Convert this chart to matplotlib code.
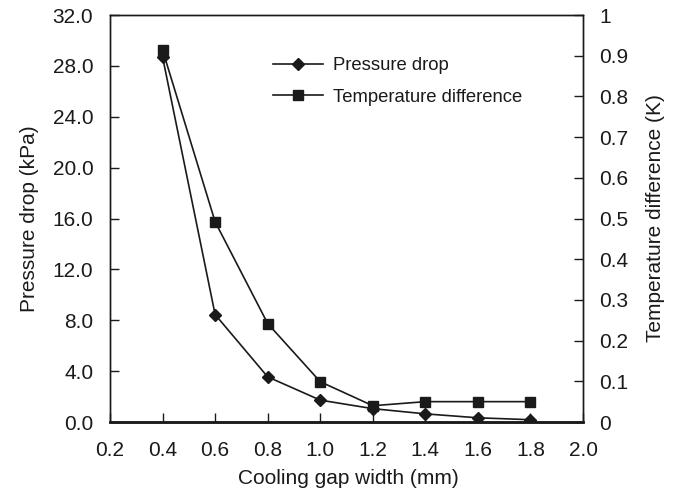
import matplotlib
matplotlib.use("Agg")
import matplotlib.pyplot as plt
from matplotlib.ticker import FuncFormatter

plt.rcParams['font.family'] = ['Liberation Sans', 'DejaVu Sans']

gap = [0.4, 0.6, 0.8, 1.0, 1.2, 1.4, 1.6, 1.8]
pressure = [28.7, 8.45, 3.55, 1.72, 1.05, 0.64, 0.33, 0.18]
temp = [0.914, 0.492, 0.242, 0.099, 0.040, 0.050, 0.050, 0.050]

x_ticks = [0.2, 0.4, 0.6, 0.8, 1.0, 1.2, 1.4, 1.6, 1.8, 2.0]
p_ticks = [0, 4, 8, 12, 16, 20, 24, 28, 32]
t_ticks = [0, 0.1, 0.2, 0.3, 0.4, 0.5, 0.6, 0.7, 0.8, 0.9, 1.0]

INK = '#1a1a1a'
FS = 15

fig = plt.figure(figsize=(6.8, 4.94), dpi=100)
ax = fig.add_axes([110 / 680, 1 - 422 / 494, 473 / 680, 407 / 494])
ax2 = ax.twinx()

l1, = ax.plot(gap, pressure, color=INK, lw=1.2, marker='D', ms=6.3,
              label='Pressure drop')
l2, = ax2.plot(gap, temp, color=INK, lw=1.2, marker='s', ms=7.2,
               label='Temperature difference')

ax.set_xlim(0.2, 2.0)
ax.set_ylim(0, 32)
ax2.set_ylim(0, 1)
ax.set_xticks(x_ticks)
ax.set_yticks(p_ticks)
ax2.set_yticks(t_ticks)
ax.xaxis.set_major_formatter(FuncFormatter(lambda v, p: f"{v:.1f}"))
ax.yaxis.set_major_formatter(FuncFormatter(lambda v, p: f"{v:.1f}"))
ax2.yaxis.set_major_formatter(FuncFormatter(
    lambda v, p: "0" if abs(v) < 1e-9 else ("1" if abs(v - 1) < 1e-9 else f"{v:.1f}")))

for a in (ax, ax2):
    a.tick_params(direction='in', length=6.5, width=1, labelsize=FS, colors=INK)
    for s in a.spines.values():
        s.set_color(INK)
        s.set_linewidth(1)
ax.tick_params(axis='x', pad=13.5)
ax.tick_params(axis='y', pad=12)
ax2.tick_params(axis='y', pad=11.5)
ax.spines['bottom'].set_linewidth(1.8)
ax2.spines['bottom'].set_linewidth(1.8)

ax.set_xlabel('Cooling gap width (mm)', fontsize=FS, color=INK)
ax.set_ylabel('Pressure drop (kPa)', fontsize=FS, color=INK)
ax2.set_ylabel('Temperature difference (K)', fontsize=FS, color=INK)
ax.xaxis.set_label_coords(0.504, -0.1167)
ax.yaxis.set_label_coords(-0.150, 0.5)
ax2.yaxis.set_label_coords(1.134, 0.5)

leg = ax.legend(handles=[l1, l2], loc='center left',
                bbox_to_anchor=(273 / 680, 1 - 81.5 / 494),
                bbox_transform=fig.transFigure,
                frameon=False, fontsize=13.3, handlelength=2.7,
                handletextpad=0.54, labelspacing=0.78, borderpad=0,
                borderaxespad=0)
for t in leg.get_texts():
    t.set_color(INK)

fig.savefig('out.png', dpi=100)
